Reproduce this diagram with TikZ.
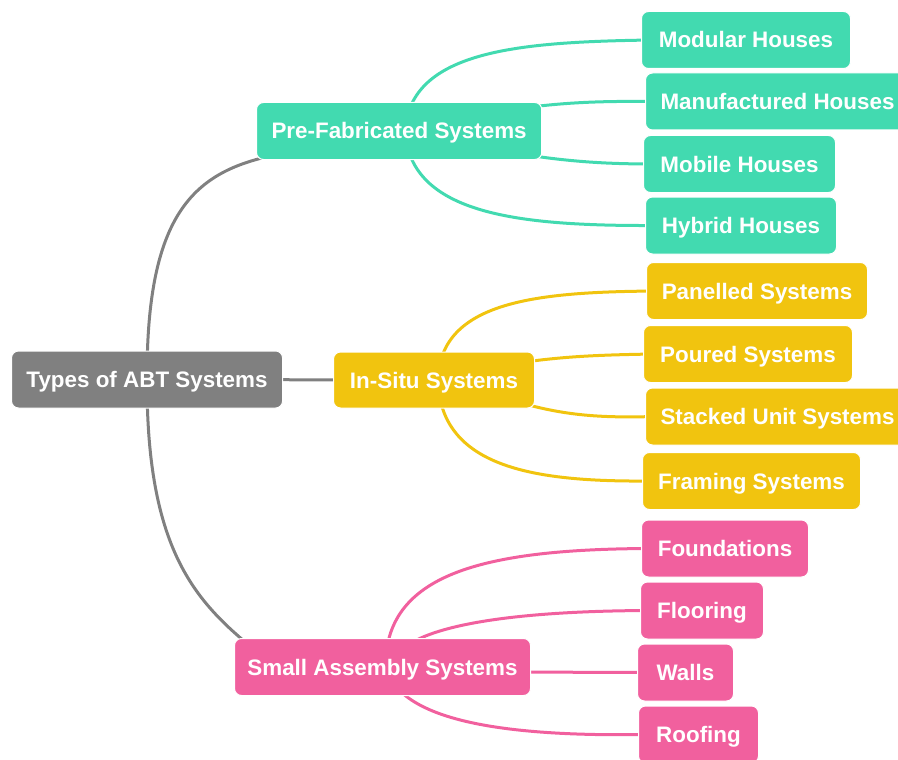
\documentclass[tikz,border=0pt]{standalone}
\usepackage{fontspec}
\setmainfont{Liberation Sans}
\usetikzlibrary{backgrounds}
\definecolor{cgray}{HTML}{808080}
\definecolor{cteal}{HTML}{42DAB0}
\definecolor{cyel}{HTML}{F1C40F}
\definecolor{cpink}{HTML}{F1609E}
\tikzset{
  box/.style={rounded corners=7pt, draw=white, line width=1pt, text=white,
    font=\fontsize{22.4}{26}\selectfont\bfseries, minimum height=57pt,
    text height=16pt, text depth=0pt,
    inner xsep=15pt, inner ysep=0pt, anchor=west},
  tealbox/.style={box, fill=cteal},
  yelbox/.style={box, fill=cyel},
  pinkbox/.style={box, fill=cpink},
  graybox/.style={box, fill=cgray},
  link/.style={line width=3pt},
}
\begin{document}
\begin{tikzpicture}[x=1pt,y=-1pt]
\useasboundingbox (0,0) rectangle (898,760);
% main nodes
\node[graybox, minimum width=271pt] (root) at (11,379.5) {Types of ABT Systems};
\node[tealbox, minimum width=285pt] (pre) at (256,131) {Pre-Fabricated Systems};
\node[yelbox, minimum width=201pt, minimum height=56pt] (ins) at (333,380) {In-Situ Systems};
\node[pinkbox, minimum width=296pt, inner xsep=9pt] (sma) at (234,667) {Small Assembly Systems};
% leaves
\node[tealbox, minimum width=209pt] (mod) at (641,40) {Modular Houses};
\node[tealbox] (man) at (645,101.5) {Manufactured Houses};
\node[tealbox, minimum width=192pt] (mob) at (643,164) {Mobile Houses};
\node[tealbox, minimum width=191pt] (hyb) at (645,225.5) {Hybrid Houses};
\node[yelbox, minimum width=221pt] (pan) at (646,291) {Panelled Systems};
\node[yelbox, minimum width=209pt] (pou) at (643,354) {Poured Systems};
\node[yelbox] (sta) at (645,416.5) {Stacked Unit Systems};
\node[yelbox, minimum width=218pt] (fra) at (642,481) {Framing Systems};
\node[pinkbox, minimum width=167pt] (fou) at (641,548.5) {Foundations};
\node[pinkbox, minimum width=123pt] (flo) at (640,610.5) {Flooring};
\node[pinkbox, minimum width=96pt] (wal) at (637,672.5) {Walls};
\node[pinkbox, minimum width=120pt] (roo) at (638,734.5) {Roofing};
\begin{scope}[on background layer]
% root branches
\draw[link, cgray] (root.center) .. controls (146.5,220) and (190,175) .. ([shift={(10,-3)}]pre.south west);
\draw[link, cgray] (root.center) .. controls (146.5,540) and (190,595) .. ([shift={(10,3)}]sma.north west);
\draw[link, cgray] (root.center) -- (ins.center);
% prefab
\draw[link, cteal] ([xshift=6pt]pre.center) .. controls (410,50) and (520,42) .. ([xshift=10pt]mod.west);
\draw[link, cteal] ([shift={(-40,-20)}]pre.east) .. controls (560,102) and (600,101) .. ([xshift=10pt]man.west);
\draw[link, cteal] ([shift={(-40,20)}]pre.east) .. controls (560,161) and (600,164) .. ([xshift=10pt]mob.west);
\draw[link, cteal] ([xshift=6pt]pre.center) .. controls (410,215) and (520,226) .. ([xshift=10pt]hyb.west);
% in-situ
\draw[link, cyel] ([xshift=4pt]ins.center) .. controls (440,300) and (540,292) .. ([xshift=10pt]pan.west);
\draw[link, cyel] ([shift={(-30,-15)}]ins.east) .. controls (560,356) and (600,355) .. ([xshift=10pt]pou.west);
\draw[link, cyel] ([shift={(-30,18)}]ins.east) .. controls (560,416) and (600,418) .. ([xshift=10pt]sta.west);
\draw[link, cyel] ([xshift=4pt]ins.center) .. controls (440,470) and (540,482) .. ([xshift=10pt]fra.west);
% small assembly
\draw[link, cpink] ([xshift=3pt]sma.center) .. controls (385,575) and (480,549) .. ([xshift=10pt]fou.west);
\draw[link, cpink] ([xshift=8pt]sma.center) .. controls (398,628) and (500,611) .. ([xshift=10pt]flo.west);
\draw[link, cpink] ([shift={(-30,5)}]sma.east) -- ([xshift=10pt]wal.west);
\draw[link, cpink] ([xshift=3pt]sma.center) .. controls (400,720) and (500,737) .. ([xshift=10pt]roo.west);
\end{scope}
\end{tikzpicture}
\end{document}
